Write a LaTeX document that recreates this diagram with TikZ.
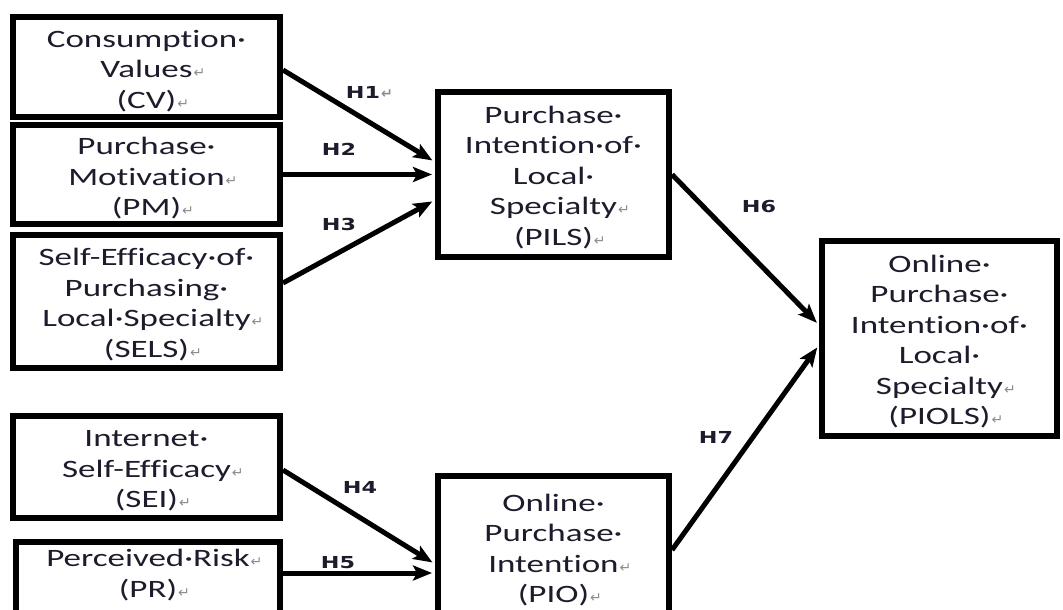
\documentclass[tikz,border=0pt]{standalone}
\usepackage{fontspec}
\setmainfont[FakeStretch=1.4,Ligatures=NoCommon,Contextuals=NoAlternate]{Carlito}
\newfontfamily\hfont[FakeStretch=1.35]{DejaVu Sans}
\newfontfamily\retfont{DejaVu Sans}
\usetikzlibrary{arrows.meta}
\definecolor{txtc}{RGB}{28,28,44}
\definecolor{retc}{RGB}{140,140,140}
\newcommand{\rt}{\rlap{\kern1pt{\retfont\fontsize{14}{14}\selectfont\textcolor{retc}{↵}}}}
\begin{document}
\begin{tikzpicture}[x=1pt,y=-1pt,
  box/.style={draw, line width=6pt, inner sep=0pt},
  txt/.style={inner sep=0pt, align=center, font=\fontsize{25}{30.5}\selectfont, text=txtc},
  arr/.style={line width=5pt, -{Stealth[length=19pt,width=15pt,inset=4pt]}, shorten >=3pt},
  hl/.style={inner sep=0pt, text=txtc, font=\hfont\bfseries\fontsize{16.5}{16.5}\selectfont}]
\useasboundingbox (0,0) rectangle (1063,610);
\clip (0,0) rectangle (1063,610);
\fill[white] (0,0) rectangle (1063,610);

\node[box, minimum width=267pt, minimum height=100pt] (cv) at (146.5,67) {};
\node[txt] (cvt) at ([yshift=-4pt]cv.center) {Consumpt\kern0pt ion·\\Values\rt\\(CV)\rt};
\node[box, minimum width=267pt, minimum height=99pt] (pm) at (146.5,174.5) {};
\node[txt] (pmt) at ([yshift=-4pt]pm.center) {Purchase·\\Motivat\kern0pt ion\rt\\(PM)\rt};
\node[box, minimum width=267pt, minimum height=133pt] (sels) at (146.5,301.5) {};
\node[txt] (selst) at ([yshift=-3pt]sels.center) {Self-Efficacy·of·\\Purchasing·\\Local·Specialty\rt\\(SELS)\rt};
\node[box, minimum width=267pt, minimum height=102pt] (sei) at (146.5,467) {};
\node[txt] (seit) at ([yshift=-4pt]sei.center) {Internet·\\Self-Efficacy\rt\\(SEI)\rt};
\node[box, minimum width=264pt, minimum height=83pt] (pr) at (148,583.5) {};
\node[txt] (prt) at (148,575) {Perceived·Risk\rt\\(PR)\rt};
\node[box, minimum width=231pt, minimum height=165pt] (pils) at (553.5,174.5) {};
\node[txt] (pilst) at ([yshift=-3pt]pils.center) {Purchase·\\Intent\kern0pt ion·of·\\Local·\\Specialty\rt\\(PILS)\rt};
\node[box, minimum width=231pt, minimum height=144pt] (pio) at (553.5,548) {};
\node[txt] (piot) at ([yshift=-2pt]pio.center) {Online·\\Purchase·\\Intent\kern0pt ion\rt\\(PIO)\rt};
\node[box, minimum width=235pt, minimum height=195pt] (piols) at (939.5,338.5) {};
\node[txt] (piolst) at ([yshift=-3pt]piols.center) {Online·\\Purchase·\\Intent\kern0pt ion·of·\\Local·\\Specialty\rt\\(PIOLS)\rt};

\draw[arr] ([yshift=-3pt]cv.east) -- ([yshift=12.5pt]pils.west);
\draw[arr] (pm.east) -- (pm.east -| pils.west);
\draw[arr] ([yshift=18.5pt]sels.east) -- ([yshift=-25.5pt]pils.west);
\draw[arr] ([yshift=-3pt]sei.east) -- ([yshift=-16pt]pio.west);
\draw[arr] ([yshift=10.5pt]pr.east) -- ([yshift=10.5pt]pr.east -| pio.west);
\draw[arr] (pils.east) -- ([yshift=13.5pt]piols.west);
\draw[arr] ([yshift=-2pt]pio.east) -- ([yshift=-6.5pt]piols.west);

\node[hl] (h1) at (363,92) {H1\rt};
\node[hl] (h2) at (339,149) {H2};
\node[hl] (h3) at (339,224) {H3};
\node[hl] (h4) at (360,487) {H4};
\node[hl] (h5) at (338,563) {H5};
\node[hl] (h6) at (759,207) {H6};
\node[hl] (h7) at (716,437) {H7};
\end{tikzpicture}
\end{document}
